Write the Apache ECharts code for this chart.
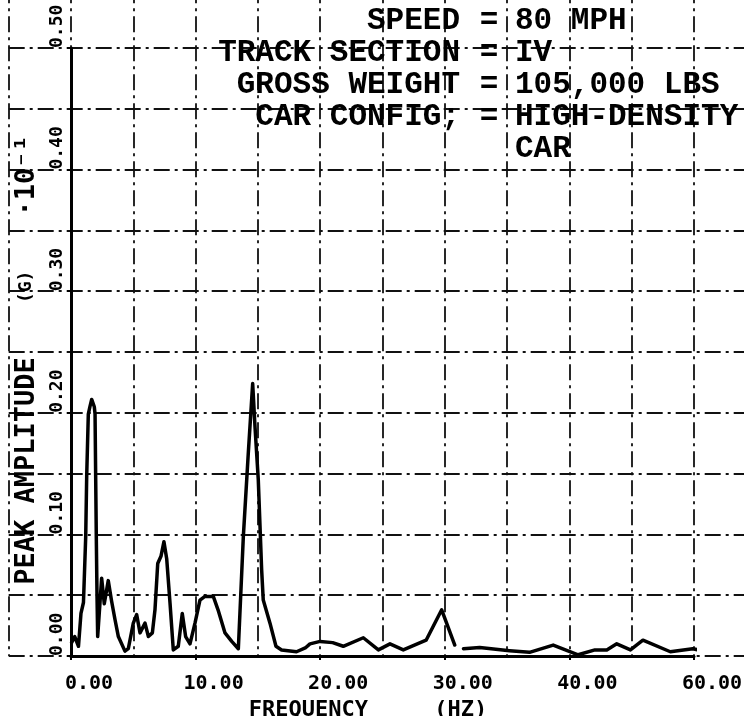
<!DOCTYPE html>
<html>
<head>
<meta charset="utf-8">
<script src="https://cdn.jsdelivr.net/npm/echarts@6/dist/echarts.min.js"></script>
<style>
html,body{margin:0;padding:0;background:#fff;}
#chart{width:744px;height:716px;}
</style>
</head>
<body>
<div id="chart"></div>
<script>
// ---- data ----
const freq = [0.05,0.3,0.6,0.8,1.0,1.18,1.26,1.39,1.52,1.66,1.87,1.93,1.98,2.03,2.09,2.14,2.46,2.67,2.99,3.26,3.53,3.8,4.33,4.6,5.0,5.27,5.54,5.94,6.21,6.53,6.74,6.96,7.22,7.46,7.68,7.95,8.21,8.61,8.93,9.2,9.55,9.95,10.35,10.75,11.42,11.8,12.36,12.9,13.43,13.83,14.23,14.58,14.77,15.03,15.3,15.43,15.97,16.45,16.9,18.1,18.8,19.18,20.0,21.0,21.85,23.46,24.67,25.6,26.67,28.5,29.75,30.8,31.0,31.5,32.8,35.2,36.8,38.7,40.7,42.05,43.0,43.8,44.9,45.9,48.1,49.9,50.8];
const amp  = [0.011,0.016,0.008,0.035,0.044,0.098,0.148,0.199,0.205,0.211,0.205,0.199,0.148,0.098,0.048,0.016,0.064,0.043,0.062,0.045,0.030,0.016,0.004,0.006,0.027,0.034,0.019,0.027,0.016,0.019,0.038,0.076,0.082,0.094,0.080,0.043,0.005,0.008,0.035,0.016,0.010,0.027,0.046,0.049,0.049,0.038,0.019,0.012,0.006,0.098,0.167,0.224,0.188,0.145,0.071,0.046,0.027,0.008,0.005,0.0035,0.0066,0.010,0.012,0.011,0.008,0.015,0.005,0.010,0.005,0.013,0.038,0.009,null,0.006,0.007,0.0044,0.003,0.009,0.001,0.005,0.005,0.010,0.005,0.013,0.0035,0.006,0.004];
const xTickLabels = ['0.00','10.00','20.00','30.00','40.00','60.00'];
const yTickLabels = ['0.00','0.10','0.20','0.30','0.40','0.50'];
const infoKeys   = ['SPEED','TRACK SECTION','GROSS WEIGHT','CAR CONFIG;'];
const infoValues = ['80 MPH','IV','105,000 LBS','HIGH-DENSITY','CAR'];
const xTitle = 'FREQUENCY     (HZ)';

const seriesData = freq.map((f, i) => [f, amp[i]]);

const MONO = '"DejaVu Sans Mono", monospace';
const gridLine = { color: '#111', width: 1.8, type: [16, 5, 3, 5] };

const chart = echarts.init(document.getElementById('chart'), null, { renderer: 'canvas' });
chart.setOption({
  backgroundColor: '#ffffff',
  animation: false,
  grid: [
    { left: 71, right: 50, top: 48, bottom: 60, containLabel: false, outerBoundsMode: 'none' },
    { left: 8.7, right: -12.3, top: -12.8, bottom: 60, containLabel: false, outerBoundsMode: 'none' }
  ],
  xAxis: [
    {
      gridIndex: 0, type: 'value', min: 0, max: 50, interval: 10,
      axisLine: { show: true, onZero: false, lineStyle: { color: '#000', width: 3 } },
      axisTick: { show: true, length: 4, lineStyle: { color: '#000', width: 2 } },
      splitLine: { show: false },
      axisLabel: {
        showMinLabel: true, showMaxLabel: true,
        formatter: (v, i) => xTickLabels[i],
        fontFamily: MONO, fontWeight: 'bold', fontSize: 20, color: '#000',
        margin: 18, align: 'center', padding: [0, 0, 0, 36]
      },
      name: xTitle, nameLocation: 'middle', nameGap: 33,
      nameTextStyle: { fontFamily: MONO, fontWeight: 'bold', fontSize: 22, color: '#000', padding: [0, 29, 0, 0] }
    },
    {
      gridIndex: 1, type: 'value', min: -5, max: 55, interval: 5,
      axisLine: { show: false }, axisTick: { show: false }, axisLabel: { show: false },
      splitLine: { show: true, lineStyle: gridLine }
    }
  ],
  yAxis: [
    {
      gridIndex: 0, type: 'value', min: 0, max: 0.5, interval: 0.1,
      axisLine: { show: true, onZero: false, lineStyle: { color: '#000', width: 3 } },
      axisTick: { show: true, length: 4, lineStyle: { color: '#000', width: 2 } },
      splitLine: { show: false },
      axisLabel: {
        showMinLabel: true, showMaxLabel: true,
        formatter: (v, i) => yTickLabels[i],
        rotate: 90, align: 'left', margin: 5,
        fontFamily: MONO, fontWeight: 'bold', fontSize: 18, color: '#000'
      },
      name: 'PEAK AMPLITUDE{g|     (G)     }·10⁻¹',
      nameLocation: 'middle', nameRotate: 90, nameGap: 23,
      nameTextStyle: {
        fontFamily: MONO, fontWeight: 'bold', fontSize: 27, color: '#000',
        padding: [0, 16, 0, 0],
        rich: { g: { fontFamily: MONO, fontWeight: 'bold', fontSize: 18, color: '#000' } }
      }
    },
    {
      gridIndex: 1, type: 'value', min: 0, max: 0.55, interval: 0.05,
      axisLine: { show: false }, axisTick: { show: false }, axisLabel: { show: false },
      splitLine: { show: true, lineStyle: gridLine }
    }
  ],
  series: [
    {
      type: 'line', xAxisIndex: 0, yAxisIndex: 0,
      data: seriesData, showSymbol: false, symbol: 'none',
      connectNulls: false, clip: false, smooth: false,
      lineStyle: { color: '#000', width: 3.5, join: 'round', cap: 'round' },
      z: 5
    }
  ],
  graphic: [
    { type: 'text', x: 460, y: 5, z: 10,
      style: { text: infoKeys.join('\n'), font: 'bold 31px "Liberation Mono"', textAlign: 'right', textVerticalAlign: 'top', lineHeight: 32, fill: '#000' } },
    { type: 'text', x: 489, y: 5, z: 10,
      style: { text: infoKeys.map(() => '=').join('\n'), font: 'bold 31px "Liberation Mono"', textAlign: 'center', textVerticalAlign: 'top', lineHeight: 32, fill: '#000' } },
    { type: 'text', x: 515, y: 5, z: 10,
      style: { text: infoValues.join('\n'), font: 'bold 31px "Liberation Mono"', textAlign: 'left', textVerticalAlign: 'top', lineHeight: 32, fill: '#000' } }
  ]
});
</script>
</body>
</html>
